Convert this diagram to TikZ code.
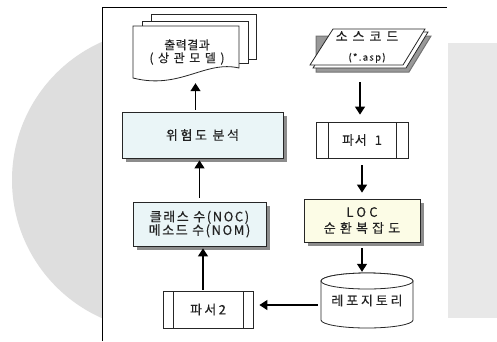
\documentclass[tikz,border=0pt]{standalone}
\usepackage{fontspec}
\setmainfont[FakeBold=0.2]{Noto Sans CJK KR}
\usetikzlibrary{arrows.meta,shadows}
\newcommand{\lsp}[2]{{\addfontfeatures{LetterSpace=#1}#2}}
\definecolor{bluefill}{HTML}{EAF5F7}
\definecolor{yelfill}{HTML}{FCFCE6}
\definecolor{txtc}{HTML}{222222}
\begin{document}
\begin{tikzpicture}[x=1pt,y=-1pt,
  txt/.style={text=txtc, font=\fontsize{13}{13.5}\selectfont, align=center, inner sep=0pt},
  box/.style={draw=black!85, line width=0.8pt, txt},
  shadowed/.style={drop shadow={shadow xshift=3.5pt, shadow yshift=-3.5pt, fill=black!45, opacity=1}},
  procbox/.style={box, fill=white, path picture={
     \draw[line width=0.8pt, black!85] ([xshift=#1]path picture bounding box.north west) -- ([xshift=#1]path picture bounding box.south west)
       ([xshift=-#1]path picture bounding box.north east) -- ([xshift=-#1]path picture bounding box.south east);}},
  shapeline/.style={draw=black!85, line width=0.8pt, fill=white},
  arr/.style={-{Triangle[width=10pt,length=8pt]}, line width=1.3pt, black}]
% backdrop
\fill[white] (0,0) rectangle (497,341);
\useasboundingbox (0,0) rectangle (497,341);
\fill[black!13] (163,180) circle[radius=151pt];
\fill[white] (102,7) rectangle (447,341);
\fill[black!9] (448,43) rectangle (497,318);
\draw[line width=0.8pt] (102,341) -- (102,7) -- (447,7);
% output document stack
\draw[shapeline] (151,14) rectangle (256,59);
\draw[shapeline] (142,21) rectangle (248,63);
\draw[shapeline] (133,26) -- (239,26) -- (239,68) .. controls (205,60) and (180,90) .. (133,78) -- cycle;
\node[txt, font=\fontsize{12}{13}\selectfont, minimum width=106pt, minimum height=52pt] (out) at (187,52) {\lsp{4}{출력결과}\\\lsp{38}{(상관모델)}};
% source code stack
\draw[draw=black!55, line width=1pt, fill=black!40] (316,36) -- (431,36) -- (409,72) -- (316,72) -- cycle;
\draw[shapeline] (336,32) -- (428,32) -- (406,68) -- (313,68) -- cycle;
\draw[shapeline] (333,29) -- (425,29) -- (403,65) -- (310,65) -- cycle;
\node[txt, minimum width=110pt, minimum height=36pt] (src) at (367,47) {\lsp{38}{소스코드}\\[6pt]{\fontsize{9.5}{10}\selectfont\lsp{14}{(*.asp)}}};
% repository cylinder
\draw[shapeline] (321,281) -- (321,320) arc[start angle=180, end angle=360, x radius=46pt, y radius=8pt] -- (413,281) arc[start angle=0, end angle=180, x radius=46pt, y radius=8pt];
\draw[shapeline] (367,281) ellipse[x radius=46pt, y radius=8pt];
% boxes
\node[box, fill=bluefill, shadowed, minimum width=161pt, minimum height=46pt] (risk) at (202.5,135) {\lsp{20}{위험도 분석}};
\node[box, fill=bluefill, shadowed, minimum width=133pt, minimum height=44pt] (cls) at (199.5,224) {\lsp{12}{클래스 수(NOC)}\\\lsp{12}{메소드 수(NOM)}};
\node[procbox=10pt, minimum width=90pt, minimum height=37pt] (p2) at (208,309.5) {\raisebox{-3pt}{\lsp{18}{파서2}}};
\node[procbox=12pt, minimum width=92pt, minimum height=36pt] (p1) at (362,140) {\lsp{6}{파서}\hspace{8pt}1};
\node[box, fill=yelfill, shadowed, minimum width=116pt, minimum height=43pt, font=\fontsize{13}{16}\selectfont] (loc) at (362,220.5) {\lsp{25}{LOC}\\\lsp{32}{순환복잡도}};
\node[txt, minimum width=92pt, minimum height=55pt] (repo) at (367,300.5) {\raisebox{-4pt}{\lsp{22}{레포지토리}}};
% connectors
\coordinate (srcbase) at (360,82);
\draw[arr] (srcbase) -- ([xshift=-2pt,yshift=7pt]p1.north);
\draw[arr] ([yshift=-7pt]p1.south) -- ([yshift=6pt]loc.north);
\draw[arr] ([yshift=-6pt]loc.south) -- ([yshift=1pt]loc.south |- repo.north);
\draw[arr, shorten >=9pt] ([xshift=-3pt,yshift=-4.5pt]repo.west) -- ([xshift=-3pt,yshift=-4.5pt]repo.west -| p2.east);
\draw[arr, shorten >=2pt] ([xshift=-5pt,yshift=1pt]p2.north) -- ([xshift=-5pt]p2.north |- cls.south);
\draw[arr, shorten >=2pt] ([yshift=4pt]cls.north) -- (cls.north |- risk.south);
\draw[arr, shorten >=5pt] ([xshift=-7pt,yshift=2pt]risk.north) -- ([xshift=-7pt]risk.north |- out.south);
\end{tikzpicture}
\end{document}
